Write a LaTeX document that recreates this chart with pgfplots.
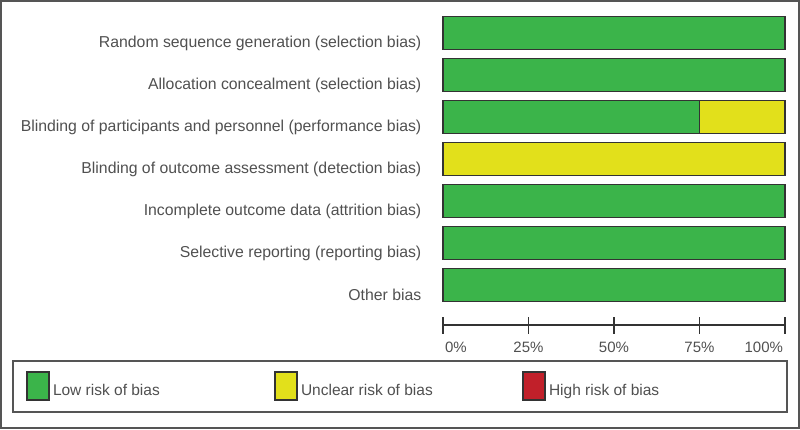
\documentclass[border=0pt]{standalone}
\usepackage{pgfplots}
\pgfplotsset{compat=1.18}
\usepackage{fontspec}
\setmainfont{Liberation Sans}
\definecolor{lowg}{HTML}{3BB44A}
\definecolor{uncy}{HTML}{E2E01B}
\definecolor{highr}{HTML}{C1202A}
\definecolor{edge}{HTML}{333333}
\definecolor{txt}{HTML}{505050}
\definecolor{frame}{HTML}{555555}
\pgfplotsset{mylegend/.style={legend image code/.code={%
  \draw[##1, line width=1.3pt] (0pt,-10pt) rectangle (22pt,18pt);
  \path[draw=none, fill=none] (-14pt,-22pt) rectangle (26pt,29pt);}}}
\begin{document}
\begin{tikzpicture}[x=1pt,y=1pt]
\useasboundingbox (0pt,0pt) rectangle (800pt,-429pt);
\begin{axis}[
 at={(443pt,-12pt)}, anchor=north west,
 scale only axis, width=342pt, height=294pt,
 xmin=0, xmax=100, ymin=-0.5, ymax=6.5, y dir=reverse,
 enlargelimits=false, clip=false,
 xbar stacked, bar width=33pt,
 axis lines*=left,
 y axis line style={draw=none},
 ytick={0,...,6}, ytick style={draw=none},
 yticklabels={Random sequence generation (selection bias),
   Allocation concealment (selection bias),
   Blinding of participants and personnel (performance bias),
   Blinding of outcome assessment (detection bias),
   Incomplete outcome data (attrition bias),
   Selective reporting (reporting bias),
   Other bias},
 yticklabel style={anchor=east, inner sep=0pt, xshift=-13pt, yshift=-10pt,
   font=\fontsize{15.8}{18}\selectfont, text=txt},
 axis x line shift=19pt,
 x axis line style={line width=1.3pt, draw=edge},
 xtick={0,25,50,75,100}, tick align=center, major tick length=17pt,
 xtick style={line width=1.3pt, draw=edge},
 xticklabels={\makebox[0pt][l]{\hspace{2pt}0\%},25\%,50\%,75\%,\makebox[0pt][r]{100\%\hspace{2pt}}},
 xticklabel style={font=\fontsize{15}{17}\selectfont, text=txt, anchor=north, yshift=-5pt},
 legend columns=3,
 legend cell align=left,
 legend style={at={(axis description cs:-1.2573,-0.1871)}, anchor=north west,
   draw=frame, line width=1.5pt, fill=white, inner sep=0pt, outer sep=0pt,
   nodes={inner sep=0pt, text depth=0pt, font=\fontsize{15.5}{18}\selectfont, text=txt},
   /tikz/every even column/.append style={column sep=0pt},
   /tikz/every odd column/.append style={column sep=0pt}},
]
\addplot[fill=lowg, draw=edge, line width=1.3pt, mylegend] coordinates {(100,0) (100,1) (75,2) (0,3) (100,4) (100,5) (100,6)};
\addlegendentry{\makebox[208pt][l]{Low risk of bias}}
\addplot[fill=uncy, draw=edge, line width=1.3pt, mylegend] coordinates {(0,0) (0,1) (25,2) (100,3) (0,4) (0,5) (0,6)};
\addlegendentry{\makebox[208pt][l]{Unclear risk of bias}}
\addplot[fill=highr, draw=edge, line width=1.3pt, mylegend] coordinates {(0,0) (0,1) (0,2) (0,3) (0,4) (0,5) (0,6)};
\addlegendentry{\makebox[238pt][l]{High risk of bias}}
\end{axis}
\draw[frame, line width=2pt] (1pt,-1pt) rectangle (799pt,-428pt);
\end{tikzpicture}
\end{document}
